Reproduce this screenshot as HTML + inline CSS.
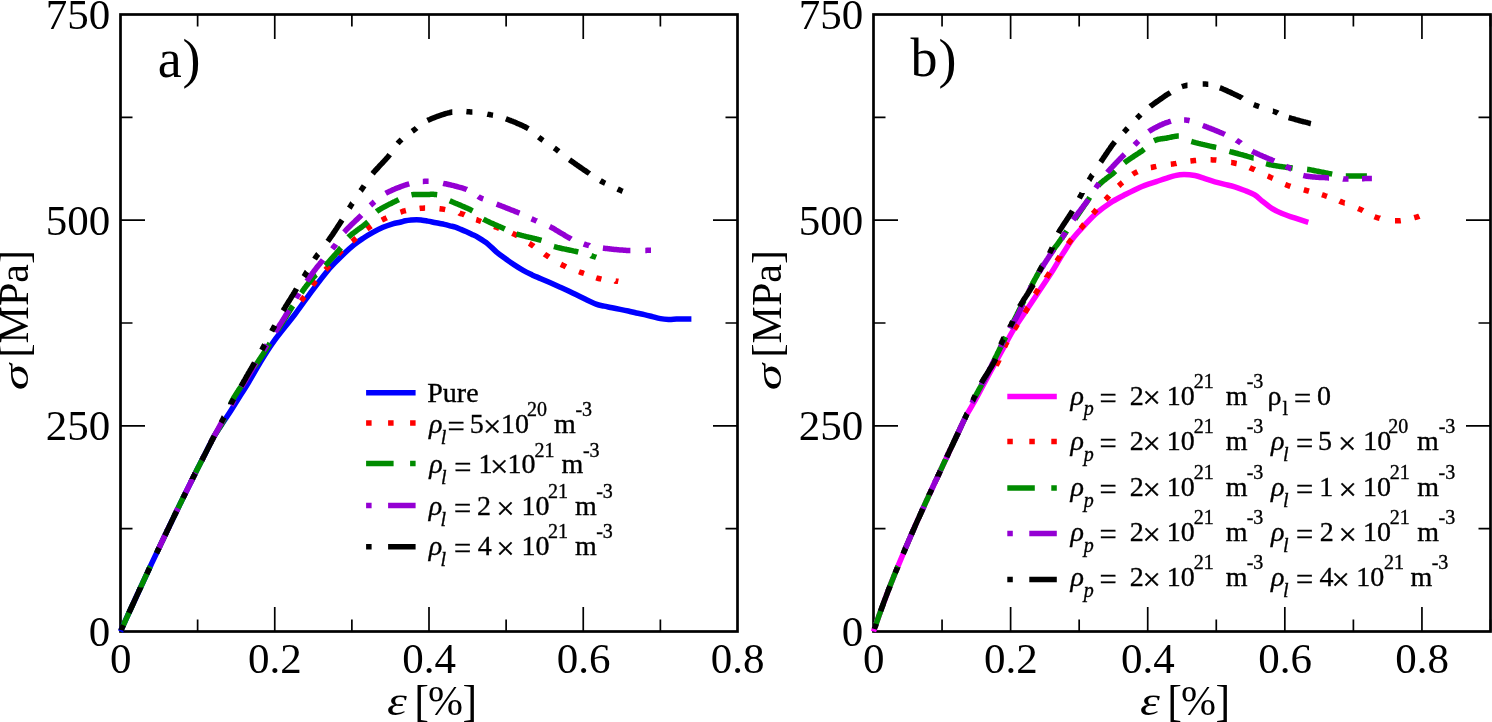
<!DOCTYPE html>
<html><head><meta charset="utf-8"><style>
html,body{margin:0;padding:0;background:#fff;}
svg{display:block;will-change:transform;font-family:"Liberation Serif",serif;}
.lg text{stroke:#000;stroke-width:0.35px;}
</style></head><body>
<svg width="1492" height="722" viewBox="0 0 1492 722">
<rect width="100%" height="100%" fill="#fff"/>
<rect x="120.5" y="14.5" width="617" height="617" fill="none" stroke="#000" stroke-width="2.7"/>
<path d="M274.75,631.5v-24.5M274.75,14.5v24.5M429,631.5v-24.5M429,14.5v24.5M583.25,631.5v-24.5M583.25,14.5v24.5M197.625,631.5v-12M197.625,14.5v12M351.875,631.5v-12M351.875,14.5v12M506.125,631.5v-12M506.125,14.5v12M660.375,631.5v-12M660.375,14.5v12M120.5,425.833h24.5M737.5,425.833h-24.5M120.5,220.167h24.5M737.5,220.167h-24.5M120.5,528.667h12M737.5,528.667h-12M120.5,323h12M737.5,323h-12M120.5,117.333h12M737.5,117.333h-12" stroke="#000" stroke-width="1.7" fill="none"/>
<rect x="873.5" y="14.5" width="617" height="617" fill="none" stroke="#000" stroke-width="2.7"/>
<path d="M1010.61,631.5v-24.5M1010.61,14.5v24.5M1147.72,631.5v-24.5M1147.72,14.5v24.5M1284.83,631.5v-24.5M1284.83,14.5v24.5M1421.94,631.5v-24.5M1421.94,14.5v24.5M942.056,631.5v-12M942.056,14.5v12M1079.17,631.5v-12M1079.17,14.5v12M1216.28,631.5v-12M1216.28,14.5v12M1353.39,631.5v-12M1353.39,14.5v12M1490.5,631.5v-12M1490.5,14.5v12M873.5,425.833h24.5M1490.5,425.833h-24.5M873.5,220.167h24.5M1490.5,220.167h-24.5M873.5,528.667h12M1490.5,528.667h-12M873.5,323h12M1490.5,323h-12M873.5,117.333h12M1490.5,117.333h-12" stroke="#000" stroke-width="1.7" fill="none"/>
<g fill="none" stroke-width="5.5" stroke-linejoin="round">
<path d="M120.5,631.5 C122.0,628.2 126.3,618.6 129.3,612.0 C132.3,605.4 135.4,598.7 138.5,592.0 C141.6,585.3 144.6,578.7 147.7,572.0 C150.8,565.3 153.9,558.7 157.1,552.0 C160.2,545.3 163.4,538.7 166.6,532.0 C169.8,525.3 173.0,518.7 176.2,512.0 C179.4,505.3 182.7,498.7 186.0,492.0 C189.3,485.3 192.6,478.7 195.9,472.0 C199.2,465.3 203.1,457.9 206.1,452.0 C209.1,446.1 211.3,441.2 214.0,436.5 C216.7,431.8 219.3,428.1 222.0,424.0 C224.7,419.9 226.9,416.8 230.0,412.0 C233.1,407.2 237.5,399.9 240.3,395.5 C243.1,391.1 243.6,390.8 246.8,385.4 C250.0,380.0 255.2,370.6 259.7,363.2 C264.2,355.8 268.1,349.3 274.0,341.1 C279.9,332.9 288.9,322.3 295.3,313.8 C301.7,305.3 307.3,297.1 312.4,290.3 C317.5,283.5 322.1,277.4 325.8,272.9 C329.5,268.4 331.4,266.4 334.5,263.2 C337.6,260.0 341.0,256.6 344.2,253.5 C347.4,250.4 350.7,247.4 353.9,244.8 C357.1,242.2 360.4,240.1 363.6,238.0 C366.8,235.9 370.1,234.0 373.3,232.2 C376.5,230.4 379.8,228.7 383.0,227.3 C386.2,225.9 389.9,224.7 392.7,223.8 C395.5,223.0 397.9,222.7 400.0,222.2 C402.1,221.7 403.6,221.2 405.5,220.8 C407.4,220.4 409.2,220.2 411.1,220.0 C413.0,219.8 414.8,219.7 416.6,219.7 C418.5,219.7 420.4,220.0 422.2,220.2 C424.0,220.4 425.9,220.8 427.7,221.1 C429.5,221.4 431.3,221.8 433.2,222.2 C435.1,222.6 436.9,222.9 438.8,223.3 C440.7,223.7 442.5,224.0 444.3,224.4 C446.1,224.8 448.0,225.3 449.9,225.8 C451.8,226.3 453.6,226.6 455.4,227.2 C457.2,227.8 459.0,228.6 460.9,229.4 C462.8,230.2 464.6,231.0 466.5,231.8 C468.4,232.6 470.1,233.5 472.0,234.4 C473.9,235.3 475.4,235.8 478.0,237.4 C480.6,239.0 484.6,241.4 487.7,243.8 C490.8,246.2 493.6,249.6 496.6,252.1 C499.6,254.6 502.6,256.7 505.5,258.8 C508.4,260.9 511.3,263.0 514.3,264.9 C517.2,266.8 520.2,268.7 523.2,270.4 C526.2,272.1 529.2,273.5 532.1,274.9 C535.0,276.3 538.0,277.4 540.9,278.7 C543.8,280.0 546.8,281.3 549.8,282.6 C552.8,283.9 555.6,285.2 558.6,286.5 C561.6,287.8 564.5,289.0 567.5,290.4 C570.5,291.8 573.5,293.4 576.4,294.8 C579.3,296.2 581.7,297.4 585.0,299.0 C588.3,300.6 592.9,302.9 596.1,304.1 C599.3,305.3 601.4,305.5 604.1,306.1 C606.8,306.7 609.5,307.2 612.2,307.8 C614.9,308.4 617.5,308.9 620.2,309.4 C622.9,309.9 625.6,310.4 628.3,311.0 C631.0,311.6 633.6,312.4 636.3,313.0 C639.0,313.6 641.7,314.0 644.4,314.6 C647.1,315.2 649.7,315.9 652.4,316.6 C655.1,317.3 657.8,318.1 660.5,318.6 C663.2,319.1 665.8,319.3 668.5,319.4 C671.2,319.5 673.8,319.1 676.5,319.0 C679.2,318.9 682.1,319.0 684.6,319.0 C687.1,319.0 690.3,319.0 691.4,319.0" stroke="#0000ff"/>
<path d="M301.1,301.0L301.7,300.2 302.4,299.3 303.0,298.4 303.6,297.6 304.2,296.7 304.3,296.6M312.4,285.4L312.6,285.1 313.1,284.5 313.6,283.8 314.1,283.2 314.9,282.1 315.7,281.1 315.9,280.9M325.5,269.9L325.6,269.8 326.2,269.1 326.8,268.4 327.4,267.7 328.0,266.9 328.7,266.1 329.2,265.5M338.1,254.4L338.7,253.7 339.3,253.0 340.0,252.3 340.7,251.6 341.4,250.9 341.9,250.4M352.1,241.5L352.6,241.1 353.3,240.5 354.1,239.8 354.8,239.2 355.6,238.5 356.2,238.0M366.9,229.0L367.6,228.5 368.4,227.9 369.1,227.4 369.9,226.8 370.7,226.3 371.1,226.0M381.8,220.1L382.2,219.9 383.1,219.4 384.0,219.0 384.8,218.6 385.7,218.2 386.5,217.8 386.7,217.7M400.4,212.1L400.4,212.1 401.4,211.8 402.3,211.5 403.2,211.2 404.2,210.9 405.1,210.7 405.9,210.5M419.6,208.4L420.4,208.3 421.3,208.3 422.3,208.2 423.2,208.2 424.2,208.1 425.1,208.1 425.1,208.1M439.5,208.7L440.4,208.8 441.3,209.0 442.3,209.1 443.3,209.2 444.2,209.4 445.2,209.6M459.4,213.1L459.5,213.2 460.4,213.5 461.3,213.7 462.2,214.0 463.2,214.3 464.2,214.6 464.6,214.8M476.2,219.6L476.6,219.7 477.5,220.1 478.5,220.5 479.4,220.8 480.3,221.2 481.1,221.5M494.2,226.4L494.2,226.4 495.2,226.8 496.1,227.1 497.0,227.5 497.9,227.8 498.8,228.2 499.3,228.4M512.4,233.3L513.2,233.7 514.0,234.1 514.9,234.5 515.8,234.9 516.6,235.4 517.4,235.8M529.2,243.3L529.9,243.7 530.7,244.3 531.5,244.8 532.3,245.4 533.2,245.9 533.7,246.3M544.5,254.1L545.0,254.5 545.9,255.0 546.7,255.6 547.5,256.1 548.3,256.6 549.0,257.1M560.9,264.3L561.7,264.7 562.5,265.2 563.4,265.6 564.3,266.0 565.2,266.4 565.9,266.8M579.0,271.7L579.8,272.0 580.7,272.3 581.6,272.6 582.5,272.9 583.4,273.3 584.0,273.5M596.2,277.8L596.8,278.0 597.7,278.3 598.7,278.5 599.6,278.7 600.6,278.9 601.4,279.1M615.5,281.0L615.6,281.1 616.4,281.2 617.1,281.2 617.8,281.3 618.3,281.4" stroke="#ff0000" stroke-linecap="butt" stroke-linejoin="miter"/>
<path d="M122.9,626.2L123.0,625.9 123.5,624.9 123.9,624.0 124.3,623.0 124.8,622.0 125.2,621.0 125.7,619.9 126.2,618.9 126.6,617.9 127.1,616.9 127.6,615.8 128.0,614.8 128.5,613.9 128.9,612.9 129.3,612.0 129.7,611.1 130.1,610.3 130.5,609.4 130.9,608.6 131.3,607.7 131.7,606.8 132.1,605.9 132.5,605.1 132.9,604.2 133.2,603.4M138.9,591.1L139.3,590.3 139.7,589.4 140.1,588.5 140.5,587.7 140.9,586.8 141.3,585.9 141.7,585.0 142.1,584.2 142.5,583.3 142.9,582.4 143.3,581.6 143.7,580.7 144.1,579.8 144.5,579.0 144.9,578.1 145.3,577.2 145.7,576.3 146.1,575.5 146.5,574.6 146.9,573.7 147.3,572.9 147.7,572.0 148.1,571.1 148.5,570.3 148.9,569.4 149.3,568.5 149.7,567.7 150.1,566.8 150.4,566.3M156.7,552.9L157.1,552.0 157.5,551.1 157.9,550.3 158.3,549.4 158.7,548.5 159.2,547.7 159.6,546.8 160.0,545.9 160.4,545.0 160.8,544.2 161.2,543.3 161.6,542.4 162.0,541.6 162.5,540.7 162.9,539.8 163.3,539.0 163.7,538.1 164.1,537.2 164.5,536.3 164.9,535.5 165.4,534.6 165.8,533.7 166.2,532.9 166.6,532.0 167.0,531.1 167.4,530.3 167.7,529.7M173.7,517.2L174.1,516.3 174.5,515.5 174.9,514.6 175.4,513.7 175.8,512.9 176.2,512.0 176.6,511.1 177.0,510.3 177.5,509.4 177.9,508.5 178.3,507.7 178.7,506.8 179.2,505.9 179.6,505.0 180.0,504.2 180.4,503.3 180.9,502.4 181.3,501.6 181.7,500.7 182.1,499.8 182.6,499.0 183.0,498.1 183.4,497.2 183.9,496.3 184.3,495.5 184.7,494.6M190.7,482.4L191.1,481.6 191.6,480.7 192.0,479.8 192.4,479.0 192.9,478.1 193.3,477.2 193.7,476.3 194.2,475.5 194.6,474.6 195.0,473.7 195.5,472.9 195.9,472.0 196.3,471.1 196.8,470.2 197.2,469.4 197.7,468.5 198.1,467.6 198.6,466.7 199.1,465.8 199.5,464.9 200.0,464.0 200.4,463.1 200.9,462.2 201.4,461.3 201.8,460.4 202.3,459.5 202.7,458.6 203.2,457.8 203.5,457.0M210.4,443.3L210.5,443.2 210.9,442.4 211.3,441.6 211.7,440.8 212.1,439.9 212.6,439.1 213.0,438.2 213.5,437.4 214.0,436.5 214.5,435.7 214.9,434.9 215.4,434.1 215.9,433.3 216.4,432.6 216.9,431.8 217.4,431.0 217.9,430.2 218.4,429.4 218.9,428.6 219.4,427.8 219.9,427.0 220.5,426.2 221.0,425.3 221.5,424.5 222.0,423.6 222.5,422.7 223.0,421.8 223.5,420.9 224.0,420.0 224.4,419.2 224.7,418.6M230.5,404.4L230.9,403.5 231.3,402.5 231.8,401.6 232.3,400.6 232.8,399.7 233.3,398.7 233.7,397.9 234.2,397.1 234.7,396.4 235.1,395.6 235.6,394.8 236.2,394.0 236.7,393.1 237.2,392.3 237.7,391.5 238.3,390.7 238.8,389.8 239.4,389.0 240.0,388.2 240.6,387.3 241.1,386.5 241.7,385.6 242.3,384.8 242.9,383.9 243.5,383.1 244.1,382.2 244.7,381.4 245.3,380.5 245.6,380.1M254.2,367.4L254.7,366.6 255.3,365.8 255.8,365.0 256.3,364.2 256.9,363.4 257.4,362.6 257.9,361.8 258.5,361.1 259.0,360.3 259.5,359.5 260.1,358.6 260.6,357.8 261.2,357.0 261.7,356.2 262.2,355.4 262.8,354.6 263.3,353.8 263.8,353.0 264.4,352.1 264.9,351.3 265.4,350.5 266.0,349.6 266.5,348.8 267.0,348.0 267.5,347.2 268.0,346.3 268.6,345.5 269.1,344.7 269.6,343.8 269.9,343.4M277.8,330.1L278.3,329.3 278.8,328.4 279.3,327.5 279.8,326.7 280.4,325.8 280.9,324.9 281.4,324.1 281.9,323.2 282.5,322.4 283.0,321.5 283.5,320.7 284.0,319.8 284.6,319.0 285.1,318.1 285.7,317.2 286.2,316.3 286.8,315.5 287.3,314.6 287.9,313.7 288.5,312.8 289.0,311.9 289.6,311.0 290.1,310.1 290.7,309.2 291.3,308.3 291.8,307.4 292.4,306.5 292.9,305.8M301.3,292.9L302.1,291.9 302.7,290.9 303.4,290.0 304.0,289.1 304.6,288.2 305.2,287.4 305.8,286.6 306.4,285.9 306.9,285.2 307.5,284.5 308.0,283.8 308.6,283.1 309.1,282.4 309.7,281.7 310.2,281.1 310.8,280.4 311.4,279.7 312.0,279.0 312.7,278.2 313.4,277.5 314.0,276.8 314.7,276.1 315.4,275.4 316.0,274.8 316.3,274.6M325.3,265.5L325.7,265.1 326.4,264.4 327.0,263.7 327.7,263.0 328.4,262.2 329.0,261.5 329.7,260.7 330.4,259.9 331.1,259.2 331.8,258.4 332.5,257.6 333.2,256.8 333.9,256.0 334.6,255.3 335.3,254.5 335.9,253.7 336.5,253.0 337.2,252.3 337.8,251.6 338.3,250.9 338.9,250.2 339.4,249.6 340.1,248.7 340.8,247.8 340.9,247.7M348.3,237.3L348.9,236.7 349.5,236.2 350.2,235.6 350.9,235.0 351.6,234.4 352.4,233.8 353.2,233.2 354.0,232.6 354.8,232.0 355.7,231.3 356.5,230.7 357.4,230.1 358.3,229.4 359.1,228.8 360.0,228.2 360.8,227.6 361.7,227.0 362.5,226.3 363.3,225.7 364.1,225.2 364.8,224.6 365.5,224.0 366.2,223.5 366.8,222.9 367.4,222.4 368.0,221.9M376.6,211.6L377.2,211.1 377.9,210.7 378.7,210.2 379.4,209.7 380.3,209.2 381.1,208.7 382.0,208.2 382.9,207.7 383.8,207.2 384.7,206.7 385.7,206.2 386.7,205.6 387.6,205.1 388.6,204.6 389.6,204.1 390.5,203.7 391.5,203.2 392.4,202.7 393.3,202.3 394.2,201.8 395.1,201.4 395.9,201.0 396.7,200.6 397.5,200.2 398.2,199.9 398.8,199.6M411.5,194.9L412.4,194.7 413.4,194.6 414.4,194.5 415.3,194.4 416.2,194.4 417.2,194.4 418.1,194.4 419.1,194.4 420.1,194.4 421.0,194.4 422.0,194.4 422.9,194.5 423.8,194.5 424.8,194.5 425.8,194.5 426.7,194.5 427.7,194.4 428.6,194.4 429.6,194.4 430.6,194.3 431.6,194.3 432.5,194.3 433.5,194.3 434.4,194.4 435.4,194.4 436.3,194.6 437.2,194.7 437.2,194.7M449.7,200.7L450.4,201.0 451.2,201.4 452.0,201.7 452.8,202.1 453.7,202.5 454.6,202.8 455.5,203.2 456.5,203.6 457.5,204.1 458.5,204.5 459.5,204.9 460.5,205.3 461.5,205.8 462.5,206.2 463.5,206.6 464.5,207.0 465.5,207.5 466.4,207.9 467.4,208.3 468.3,208.7 469.1,209.1 470.0,209.5 470.8,209.9 471.5,210.3 472.2,210.7 472.6,210.9M483.3,219.1L484.0,219.5 484.8,219.9 485.6,220.3 486.4,220.7 487.3,221.1 488.2,221.6 489.1,222.0 490.1,222.5 491.1,222.9 492.1,223.4 493.1,223.8 494.1,224.3 495.1,224.7 496.1,225.1 497.1,225.6 498.1,226.0 499.0,226.4 500.0,226.8 500.9,227.2 501.8,227.6 502.6,228.0 503.4,228.3 504.2,228.7 504.8,229.0M516.5,234.0L517.2,234.2 518.0,234.4 518.8,234.7 519.7,234.9 520.6,235.1 521.6,235.4 522.5,235.6 523.5,235.9 524.6,236.1 525.6,236.4 526.7,236.7 527.8,236.9 528.9,237.2 529.9,237.4 531.0,237.7 532.1,238.0 533.2,238.2 534.2,238.5 535.3,238.7 536.3,239.0 537.2,239.2 538.2,239.5 539.1,239.7 540.0,240.0 540.8,240.2 541.5,240.4M553.9,246.5L554.6,246.7 555.4,246.9 556.2,247.1 557.0,247.4 557.9,247.6 558.8,247.8 559.8,248.0 560.8,248.2 561.8,248.5 562.8,248.7 563.8,248.9 564.9,249.1 565.9,249.3 567.0,249.6 568.0,249.8 569.1,250.0 570.1,250.2 571.2,250.4 572.2,250.6 573.2,250.9 574.2,251.1 575.2,251.3 576.1,251.5 577.1,251.7 577.9,251.9 578.3,252.0M591.3,255.7L591.4,255.8 592.2,256.0 593.0,256.3 593.8,256.5 594.5,256.8 595.1,257.0 595.7,257.1 596.2,257.3" stroke="#008b00" stroke-linecap="butt" stroke-linejoin="miter"/>
<path d="M157.9,550.3L158.3,549.4 158.7,548.5 159.2,547.7 159.6,546.8 160.0,545.9 160.4,545.0 160.8,544.2 161.2,543.3 161.6,542.4 162.0,541.6 162.5,540.7 162.9,539.8 163.3,539.0 163.7,538.1 164.1,537.2 164.5,536.3 164.9,535.5 165.4,534.6 165.8,533.7 166.2,532.9 166.6,532.0 167.0,531.1 167.4,530.3 167.8,529.4 168.3,528.5 168.7,527.7 169.1,526.8 169.3,526.4M175.5,513.5L175.8,512.9 176.2,512.0 176.6,511.1 177.0,510.3 177.5,509.4 177.9,508.5 178.0,508.3M184.3,495.5L184.3,495.5 184.7,494.6 185.1,493.7 185.6,492.9 186.0,492.0 186.4,491.1 186.9,490.3 187.3,489.4 187.7,488.5 188.1,487.7 188.6,486.8 189.0,485.9 189.4,485.0 189.9,484.2 190.3,483.3 190.7,482.4 191.1,481.6 191.6,480.7 192.0,479.8 192.4,479.0 192.9,478.1 193.3,477.2 193.7,476.3 194.2,475.5 194.6,474.6 195.0,473.7 195.5,472.9 195.6,472.7M201.8,460.4L201.8,460.4 202.3,459.5 202.7,458.6 203.2,457.8 203.6,456.9 204.0,456.0 204.3,455.5M210.5,443.2L210.9,442.3 211.4,441.4 212.0,440.3 212.6,439.2 213.2,437.9 214.0,436.5 214.3,435.9 214.7,435.2 215.1,434.5 215.4,433.8 215.8,433.1 216.2,432.4 216.7,431.6 217.1,430.8 217.5,430.0 218.0,429.1 218.5,428.3 218.9,427.4 219.4,426.5 219.9,425.6 220.4,424.7 220.9,423.8 221.4,422.9 222.0,421.9 222.5,421.0 223.0,420.0 223.5,419.1 223.8,418.6M231.1,405.4L231.4,405.0 231.9,404.1 232.3,403.2 232.8,402.4 233.3,401.6 233.7,400.8 234.1,400.0M241.7,387.0L241.9,386.6 242.4,385.7 242.9,384.9 243.3,384.1 243.8,383.4 244.3,382.6 244.8,381.8 245.2,381.0 245.7,380.2 246.2,379.4 246.6,378.7 247.1,377.9 247.6,377.1 248.0,376.3 248.5,375.5 249.0,374.7 249.5,373.8 250.0,373.0 250.5,372.2 251.0,371.3 251.5,370.5 252.0,369.7 252.5,368.8 253.0,368.0 253.4,367.2 253.9,366.4 254.4,365.6 254.9,364.8 255.4,363.9 255.9,363.1 256.0,362.9M263.7,350.0L263.9,349.8 264.5,348.9 265.0,348.0 265.5,347.2 266.0,346.4 266.5,345.6 267.0,344.8M275.2,332.1L275.7,331.3 276.3,330.4 276.8,329.6 277.4,328.7 277.9,327.9 278.5,327.0 279.0,326.2 279.5,325.3 280.1,324.5 280.6,323.7 281.1,322.9 281.6,322.1 282.1,321.3 282.6,320.5 283.1,319.7 283.7,318.8 284.2,317.9 284.8,317.0 285.3,316.1 285.8,315.2 286.4,314.3 286.9,313.5 287.4,312.6 287.9,311.7 288.4,310.9 288.8,310.2M296.0,298.2L296.4,297.5 296.9,296.7 297.5,295.8 298.0,295.0 298.5,294.2 299.0,293.4M306.9,281.2L307.1,280.9 307.6,280.1 308.2,279.3 308.8,278.5 309.3,277.6 309.9,276.8 310.5,276.0 311.1,275.2 311.7,274.3 312.3,273.5 312.9,272.7 313.5,271.8 314.1,271.0 314.7,270.2 315.3,269.5 315.9,268.7 316.5,267.9 317.1,267.1 317.8,266.3 318.4,265.5 319.1,264.7 319.8,263.9 320.4,263.0 321.1,262.2 321.8,261.4 322.5,260.6 323.0,259.9M332.3,248.9L332.7,248.4 333.2,247.7 333.7,247.1 334.2,246.5 335.0,245.5 335.7,244.5 335.9,244.2M344.1,232.3L344.7,231.7 345.3,231.0 345.9,230.3 346.5,229.6 347.2,228.9 347.9,228.2 348.6,227.5 349.4,226.8 350.1,226.0 350.9,225.3 351.6,224.5 352.4,223.8 353.2,223.0 354.0,222.3 354.7,221.6 355.5,220.8 356.2,220.1 357.0,219.4 357.7,218.7 358.4,218.0 359.1,217.4 359.8,216.7 360.4,216.1 361.0,215.5 361.4,215.1M370.4,205.4L371.0,204.9 371.7,204.3 372.4,203.6 373.1,203.0 373.8,202.3 374.5,201.7 374.5,201.7M385.7,193.3L386.4,192.9 387.2,192.5 388.0,192.1 388.8,191.7 389.7,191.3 390.6,190.9 391.5,190.5 392.4,190.1 393.3,189.6 394.3,189.2 395.2,188.8 396.2,188.4 397.2,188.0 398.2,187.6 399.1,187.3 400.1,186.9 401.1,186.5 402.0,186.2 403.0,185.8 403.9,185.5 404.8,185.2 405.7,184.9 406.5,184.6 407.4,184.3 408.2,184.1 409.3,183.8M422.8,181.4L423.7,181.4 424.6,181.3 425.6,181.3 426.6,181.3 427.5,181.3 428.4,181.3 428.6,181.3M443.1,183.3L443.9,183.5 444.8,183.7 445.7,183.8 446.6,184.0 447.6,184.3 448.6,184.5 449.6,184.7 450.6,184.9 451.7,185.2 452.7,185.4 453.8,185.7 454.8,186.0 455.9,186.2 456.9,186.5 458.0,186.8 459.0,187.1 460.0,187.3 461.0,187.6 462.0,187.9 462.9,188.2 463.9,188.5 464.8,188.8 465.6,189.1 466.5,189.3 466.9,189.5M478.2,196.4L478.7,196.8 479.6,197.3 480.5,197.8 481.3,198.2 482.1,198.6 482.9,198.9 483.2,199.0M496.6,204.1L497.4,204.4 498.2,204.7 499.1,205.1 500.0,205.4 500.9,205.8 501.9,206.2 502.8,206.5 503.8,206.9 504.8,207.3 505.8,207.7 506.8,208.1 507.8,208.5 508.8,208.9 509.8,209.3 510.8,209.7 511.8,210.1 512.8,210.4 513.8,210.8 514.7,211.2 515.6,211.6 516.5,211.9 517.4,212.3 518.2,212.6 519.0,213.0 519.5,213.2M531.5,218.8L532.2,219.1 533.1,219.5 534.0,219.9 534.8,220.3 535.6,220.6 536.5,220.9 536.7,221.0M549.7,226.5L550.5,226.9 551.2,227.3 552.1,227.8 552.9,228.2 553.7,228.7 554.6,229.2 555.5,229.8 556.4,230.3 557.3,230.8 558.2,231.4 559.2,232.0 560.1,232.5 561.0,233.1 561.9,233.6 562.9,234.2 563.8,234.7 564.7,235.3 565.6,235.8 566.4,236.3 567.3,236.8 568.2,237.3 569.0,237.8 569.8,238.2 570.6,238.6 571.2,239.0M583.7,244.0L584.5,244.3 585.4,244.5 586.3,244.8 587.2,245.1 588.1,245.3 589.0,245.5 589.1,245.6M602.9,248.1L603.7,248.2 604.5,248.3 605.4,248.4 606.3,248.5 607.2,248.6 608.2,248.7 609.1,248.8 610.1,249.0 611.1,249.1 612.2,249.2 613.2,249.3 614.2,249.4 615.3,249.5 616.3,249.6 617.4,249.7 618.5,249.8 619.5,249.9 620.5,249.9 621.6,250.0 622.6,250.1 623.6,250.2 624.6,250.3 625.6,250.3 626.5,250.4 627.4,250.5 628.3,250.5 629.2,250.6 630.0,250.6 630.4,250.6M645.3,250.4L645.6,250.4 646.4,250.4 647.1,250.3 647.7,250.3 648.3,250.3 650.5,250.2 651.0,250.2 651.0,250.2" stroke="#9400d3" stroke-linecap="butt" stroke-linejoin="miter"/>
<path d="M121.1,630.2L121.2,629.8 121.6,629.1 121.9,628.4 122.3,627.6 122.6,626.8 123.0,625.9 123.3,625.2M128.9,612.9L129.3,612.0 129.7,611.1 130.1,610.3 130.5,609.4 130.9,608.6 131.3,607.7 131.7,606.8 132.1,605.9 132.5,605.1 132.9,604.2 133.3,603.3 133.7,602.5 134.1,601.6 134.5,600.7 134.9,599.8 135.3,599.0 135.7,598.1 136.1,597.2 136.5,596.4 136.9,595.5 137.3,594.6 137.7,593.7 138.1,592.9 138.5,592.0 138.9,591.1 139.3,590.3 139.7,589.4 140.1,588.5 140.5,587.7 140.5,587.6M146.8,573.9L146.9,573.7 147.3,572.9 147.7,572.0 148.1,571.1 148.5,570.3 148.9,569.4 149.3,568.5 149.5,568.1M156.5,553.3L156.7,552.9 157.1,552.0 157.5,551.1 157.9,550.3 158.3,549.4 158.7,548.5 159.1,547.8M164.9,535.5L165.4,534.6 165.8,533.7 166.2,532.9 166.6,532.0 167.0,531.1 167.4,530.3 167.8,529.4 168.3,528.5 168.7,527.7 169.1,526.8 169.5,525.9 169.9,525.0 170.3,524.2 170.8,523.3 171.2,522.4 171.6,521.6 172.0,520.7 172.4,519.8 172.8,519.0 173.3,518.1 173.7,517.2 174.1,516.3 174.5,515.5 174.9,514.6 175.4,513.7 175.8,512.9 176.2,512.0 176.6,511.2M183.0,498.1L183.0,498.1 183.4,497.2 183.9,496.3 184.3,495.5 184.7,494.6 185.1,493.7 185.6,492.9 185.7,492.7M192.4,479.1L192.4,479.0 192.9,478.1 193.3,477.2 193.7,476.3 194.2,475.5 194.6,474.6 195.0,473.7 195.1,473.6M201.8,460.4L202.3,459.5 202.7,458.6 203.2,457.8 203.6,456.9 204.0,456.0 204.5,455.2 204.9,454.4 205.3,453.6 205.7,452.8 206.1,452.0 206.6,451.0 207.1,450.1 207.5,449.2 208.0,448.3 208.4,447.4 208.9,446.5 209.3,445.7 209.7,444.9 210.2,444.0 210.6,443.2 211.0,442.4 211.4,441.6 211.8,440.8 212.2,439.9 212.7,439.1 213.1,438.2 213.5,437.4 214.0,436.5 214.3,435.9M221.1,422.7L221.6,421.8 222.0,420.9 222.5,420.0 222.9,419.2 223.4,418.3 223.8,417.4 223.9,417.3M230.8,404.2L230.8,404.1 231.3,403.2 231.8,402.4 232.2,401.6 232.7,400.7 233.2,399.8 233.7,399.0M241.1,386.1L241.5,385.4 242.0,384.6 242.4,383.8 242.9,383.0 243.4,382.2 243.8,381.3 244.3,380.4 244.9,379.6 245.4,378.7 245.9,377.7 246.4,376.8 247.0,375.9 247.5,375.0 248.0,374.0 248.6,373.1 249.1,372.2 249.6,371.3 250.1,370.3 250.7,369.4 251.2,368.6 251.7,367.7 252.2,366.8 252.6,366.0 253.1,365.2 253.5,364.4 254.0,363.6 254.4,362.9 254.5,362.7M261.8,350.0L262.2,349.2 262.7,348.3 263.2,347.4 263.6,346.6 264.1,345.8 264.5,345.0 264.7,344.7M271.7,331.3L271.8,331.1 272.3,330.3 272.7,329.4 273.2,328.6 273.7,327.7 274.1,326.9 274.6,326.0 274.8,325.6M283.1,310.8L283.6,310.0 284.0,309.2 284.5,308.4 285.0,307.6 285.5,306.7 286.0,305.9 286.6,305.1 287.1,304.2 287.6,303.3 288.1,302.5 288.7,301.6 289.2,300.8 289.7,299.9 290.3,299.1 290.8,298.2 291.3,297.4 291.8,296.5 292.4,295.7 292.9,294.9 293.4,294.0 293.9,293.2 294.4,292.4 294.8,291.7 295.3,290.9 295.8,290.0 296.4,289.1 296.6,288.7M303.8,276.7L304.3,276.0 304.8,275.2 305.3,274.3 305.8,273.5 306.3,272.7 306.8,271.8 306.9,271.7M314.6,259.1L315.1,258.3 315.7,257.5 316.3,256.6 316.8,255.8 317.4,255.0 318.0,254.2 318.2,254.0M327.7,241.4L328.3,240.6 328.9,239.8 329.4,239.0 330.0,238.2 330.6,237.3 331.2,236.5 331.8,235.6 332.4,234.8 333.0,233.9 333.5,233.1 334.1,232.2 334.7,231.4 335.2,230.5 335.8,229.7 336.4,228.8 336.9,228.0 337.5,227.1 338.0,226.3 338.5,225.5 339.0,224.7 339.6,223.9 340.1,223.1 340.6,222.3 341.1,221.5 341.6,220.7 342.1,220.0M349.3,208.1L349.7,207.5 350.2,206.6 350.8,205.7 351.3,204.9 351.8,204.1 352.3,203.3 352.4,203.2M360.7,190.8L360.8,190.7 361.3,189.9 361.9,189.1 362.4,188.3 363.0,187.4 363.6,186.6 364.1,185.8M372.6,173.7L373.2,173.0 373.7,172.3 374.3,171.6 375.0,170.9 375.6,170.2 376.3,169.5 377.0,168.7 377.7,168.0 378.4,167.2 379.1,166.4 379.8,165.7 380.5,164.9 381.3,164.1 382.0,163.4 382.7,162.6 383.4,161.8 384.1,161.1 384.8,160.3 385.5,159.6 386.2,158.8 386.8,158.1 387.5,157.4 388.1,156.7 388.6,156.1 389.2,155.4 389.7,154.7M397.7,143.5L398.3,142.8 398.9,142.1 399.6,141.4 400.3,140.7 401.0,140.1 401.6,139.5M412.2,131.3L412.9,130.8 413.7,130.3 414.4,129.7 415.2,129.1 416.0,128.5 416.5,128.0M427.5,120.5L428.3,120.1 429.0,119.8 429.9,119.4 430.7,119.0 431.6,118.7 432.5,118.3 433.5,117.9 434.4,117.5 435.4,117.2 436.4,116.8 437.4,116.4 438.4,116.0 439.4,115.7 440.5,115.3 441.5,115.0 442.5,114.6 443.5,114.3 444.5,114.0 445.5,113.7 446.5,113.4 447.4,113.2 448.4,112.9 449.3,112.7 450.1,112.5 451.0,112.3 452.1,112.1 452.3,112.1M466.4,111.6L467.3,111.7 468.3,111.7 469.3,111.8 470.2,111.9 471.1,111.9 472.1,112.0 472.4,112.0M487.3,114.1L487.7,114.2 488.6,114.4 489.5,114.5 490.3,114.7 491.3,114.9 492.3,115.1 493.0,115.2M505.9,118.8L506.7,119.1 507.5,119.4 508.4,119.7 509.3,120.1 510.2,120.4 511.1,120.8 512.1,121.1 513.0,121.5 514.0,121.9 515.0,122.3 516.0,122.7 517.0,123.2 517.9,123.6 518.9,124.0 519.9,124.4 520.8,124.9 521.8,125.3 522.7,125.7 523.6,126.2 524.5,126.6 525.3,127.0 526.2,127.5 527.0,127.9 527.7,128.3 528.4,128.7M538.7,137.1L539.2,137.5 540.0,138.2 540.8,138.8 541.5,139.3 542.3,139.9 543.0,140.4M554.3,148.0L554.3,148.0 555.0,148.5 555.8,149.1 556.5,149.6 557.3,150.2 558.1,150.8 558.7,151.3M569.5,159.7L570.2,160.2 570.9,160.7 571.6,161.2 572.4,161.8 573.2,162.3 574.0,162.9 574.8,163.5 575.7,164.1 576.5,164.7 577.4,165.3 578.2,165.9 579.1,166.5 580.0,167.1 580.9,167.7 581.7,168.3 582.6,168.9 583.4,169.5 584.3,170.1 585.1,170.6 585.9,171.2 586.7,171.7 587.5,172.3 588.2,172.8 588.9,173.2 589.4,173.6M600.4,180.7L600.9,181.0 601.8,181.5 602.7,182.0 603.5,182.4 604.3,182.9 605.2,183.3M617.6,189.0L618.2,189.3 618.9,189.7 619.6,189.9 620.1,190.2 621.9,191.1 622.6,191.4" stroke="#000000" stroke-linecap="butt" stroke-linejoin="miter"/>
<path d="M873.5,631.5 C874.6,628.2 877.9,618.6 880.3,612.0 C882.7,605.4 885.2,598.7 887.7,592.0 C890.2,585.3 892.9,578.7 895.6,572.0 C898.3,565.3 901.1,558.7 903.9,552.0 C906.7,545.3 909.6,538.7 912.5,532.0 C915.4,525.3 918.4,518.7 921.4,512.0 C924.4,505.3 927.4,498.7 930.5,492.0 C933.6,485.3 936.7,478.7 939.8,472.0 C942.9,465.3 946.0,458.7 949.1,452.0 C952.2,445.3 955.7,438.0 958.5,432.0 C961.3,426.0 963.0,421.6 965.9,416.2 C968.8,410.8 971.4,407.1 975.6,399.5 C979.8,391.9 986.4,379.0 991.1,370.4 C995.8,361.8 999.8,354.5 1003.6,347.6 C1007.4,340.7 1010.2,335.1 1014.0,328.9 C1017.8,322.7 1022.3,316.4 1026.4,310.2 C1030.6,304.0 1034.8,297.7 1038.9,291.5 C1043.1,285.3 1047.2,279.2 1051.3,272.8 C1055.4,266.4 1059.6,258.8 1063.3,253.0 C1067.0,247.2 1069.6,242.7 1073.2,238.0 C1076.8,233.3 1081.0,229.0 1084.9,224.8 C1088.8,220.7 1092.3,216.7 1096.5,213.1 C1100.7,209.5 1105.4,206.1 1109.8,203.2 C1114.2,200.3 1118.1,198.3 1123.1,195.7 C1128.1,193.1 1134.2,189.8 1139.7,187.4 C1145.2,185.1 1151.9,183.1 1156.3,181.6 C1160.7,180.1 1162.9,179.3 1166.0,178.3 C1169.1,177.3 1172.0,176.2 1175.0,175.6 C1178.0,174.9 1180.7,174.4 1184.0,174.4 C1187.3,174.4 1191.4,174.8 1194.9,175.5 C1198.4,176.2 1201.6,177.6 1204.9,178.7 C1208.2,179.8 1211.6,180.9 1214.9,181.8 C1218.2,182.7 1221.5,183.5 1224.8,184.3 C1228.1,185.1 1231.5,185.8 1234.8,186.8 C1238.1,187.8 1241.5,189.2 1244.8,190.5 C1248.1,191.8 1251.8,193.1 1254.7,194.9 C1257.6,196.7 1259.3,198.8 1262.2,201.1 C1265.1,203.4 1268.9,206.5 1272.2,208.6 C1275.5,210.7 1278.4,212.0 1282.1,213.6 C1285.8,215.2 1290.2,216.4 1294.6,217.9 C1299.0,219.4 1306.0,221.6 1308.3,222.3" stroke="#ff00ff"/>
<path d="M996.0,365.5L996.4,364.8 996.9,364.0 997.4,363.1 997.8,362.3 998.3,361.5 998.7,360.6 998.7,360.5M1004.4,347.1L1004.8,346.3 1005.3,345.4 1005.7,344.5 1006.1,343.6 1006.6,342.8 1007.1,341.9M1014.5,329.3L1014.5,329.3 1015.0,328.4 1015.5,327.6 1016.0,326.8 1016.5,325.9 1017.0,325.1 1017.5,324.4M1025.0,312.6L1025.4,311.9 1025.9,311.1 1026.4,310.2 1026.9,309.4 1027.3,308.6 1027.8,307.7 1027.9,307.6M1035.2,294.1L1035.3,294.0 1035.8,293.1 1036.3,292.3 1036.8,291.5 1037.3,290.7 1037.9,289.8 1038.3,289.1M1046.6,277.3L1046.6,277.2 1047.2,276.5 1047.7,275.7 1048.2,274.9 1048.7,274.1 1049.3,273.3 1049.7,272.6M1056.8,261.1L1057.2,260.5 1057.8,259.6 1058.3,258.8 1058.8,258.0 1059.3,257.2 1059.9,256.4 1059.9,256.3M1068.2,243.8L1068.2,243.8 1068.8,243.0 1069.3,242.2 1069.9,241.4 1070.5,240.6 1071.1,239.8 1071.6,239.2M1080.6,228.5L1081.2,227.9 1081.8,227.1 1082.4,226.4 1083.0,225.7 1083.6,224.9 1084.2,224.3M1093.0,213.6L1093.6,212.9 1094.2,212.2 1094.8,211.5 1095.5,210.8 1096.1,210.0 1096.5,209.5M1105.5,199.7L1106.0,199.2 1106.6,198.5 1107.3,197.8 1107.9,197.1 1108.6,196.4 1109.1,195.8M1118.6,185.9L1119.2,185.4 1119.9,184.7 1120.6,184.1 1121.3,183.4 1122.0,182.8 1122.5,182.4M1132.7,174.2L1133.3,173.8 1134.1,173.4 1135.0,172.9 1135.8,172.5 1136.7,172.1 1137.5,171.7M1150.8,167.6L1151.6,167.5 1152.5,167.2 1153.5,167.0 1154.4,166.8 1155.4,166.6 1156.3,166.4 1156.3,166.4M1170.8,164.2L1170.8,164.2 1171.8,164.1 1172.8,163.9 1173.7,163.8 1174.7,163.6 1175.7,163.5 1176.5,163.3M1190.4,161.0L1191.2,160.9 1192.2,160.8 1193.2,160.7 1194.1,160.6 1195.1,160.5 1196.1,160.4 1196.1,160.4M1210.6,159.8L1211.6,159.8 1212.5,159.9 1213.5,159.9 1214.5,160.0 1215.5,160.0 1216.4,160.1M1231.2,162.4L1231.3,162.4 1232.2,162.6 1233.2,162.8 1234.1,163.0 1235.1,163.2 1236.1,163.5 1236.7,163.6M1249.7,167.7L1250.3,168.0 1251.3,168.3 1252.2,168.7 1253.1,169.1 1254.0,169.4 1254.8,169.8M1267.7,176.0L1268.5,176.3 1269.4,176.8 1270.3,177.2 1271.2,177.6 1272.1,178.1 1272.8,178.4M1285.2,184.5L1286.0,184.8 1286.9,185.2 1287.8,185.5 1288.7,185.8 1289.6,186.1 1290.4,186.4M1303.8,189.8L1304.6,190.0 1305.5,190.3 1306.4,190.5 1307.4,190.8 1308.3,191.0 1309.0,191.2M1322.0,194.7L1322.6,194.9 1323.6,195.2 1324.5,195.5 1325.4,195.8 1326.4,196.1 1327.0,196.3M1339.5,201.1L1340.1,201.4 1341.1,201.7 1342.0,202.1 1342.9,202.4 1343.7,202.8 1344.6,203.1 1344.7,203.1M1358.1,208.5L1358.1,208.5 1359.0,208.9 1359.9,209.2 1360.7,209.6 1361.6,210.0 1362.5,210.4 1363.0,210.7M1374.5,216.7L1375.0,216.9 1375.9,217.2 1376.9,217.5 1377.8,217.8 1378.6,218.0 1379.6,218.2 1379.8,218.3M1395.0,220.7L1395.3,220.7 1396.2,220.8 1397.2,220.8 1398.1,220.8 1399.1,220.8 1400.1,220.7 1400.8,220.6M1414.2,217.7L1414.9,217.5 1415.6,217.3 1416.2,217.1 1416.8,217.0 1418.7,216.5 1419.4,216.2 1419.4,216.2" stroke="#ff0000" stroke-linecap="butt" stroke-linejoin="miter"/>
<path d="M875.0,627.3L875.2,626.5 875.6,625.5 875.9,624.5 876.3,623.5 876.6,622.5 877.0,621.4 877.4,620.3 877.7,619.3 878.1,618.2 878.5,617.1 878.9,616.0 879.2,615.0 879.6,614.0 880.0,613.0 880.3,612.0 880.6,611.1 880.9,610.2 881.3,609.3 881.6,608.4 881.9,607.5 882.3,606.6 882.6,605.7 882.9,604.8 883.3,603.9 883.3,603.7M888.0,591.1L888.4,590.2 888.7,589.3 889.1,588.4 889.5,587.5 889.8,586.5 890.2,585.6 890.5,584.7 890.9,583.8 891.2,582.9 891.6,582.0 892.0,581.1 892.3,580.2 892.7,579.3 893.0,578.4 893.4,577.5 893.8,576.5 894.1,575.6 894.5,574.7 894.9,573.8 895.2,572.9 895.6,572.0 896.0,571.1 896.3,570.2 896.7,569.3 897.1,568.4 897.5,567.5 897.8,566.5 898.0,566.2M903.5,552.9L903.9,552.0 904.3,551.1 904.7,550.2 905.1,549.3 905.4,548.4 905.8,547.5 906.2,546.5 906.6,545.6 907.0,544.7 907.4,543.8 907.8,542.9 908.2,542.0 908.6,541.1 908.9,540.2 909.3,539.3 909.7,538.4 910.1,537.5 910.5,536.5 910.9,535.6 911.3,534.7 911.7,533.8 912.1,532.9 912.5,532.0 912.9,531.1 913.3,530.2 913.4,529.8M919.0,517.5L919.4,516.5 919.8,515.6 920.2,514.7 920.6,513.8 921.0,512.9 921.4,512.0 921.8,511.1 922.2,510.2 922.6,509.3 923.0,508.4 923.5,507.5 923.9,506.5 924.3,505.6 924.7,504.7 925.1,503.8 925.5,502.9 925.9,502.0 926.3,501.1 926.8,500.2 927.2,499.3 927.6,498.4 928.0,497.5 928.4,496.5 928.8,495.6 929.2,494.7 929.3,494.7M934.9,482.4L935.3,481.6 935.7,480.7 936.2,479.8 936.6,479.0 937.0,478.1 937.4,477.2 937.8,476.3 938.2,475.5 938.6,474.6 939.0,473.7 939.4,472.9 939.8,472.0 940.2,471.1 940.6,470.3 941.0,469.4 941.4,468.5 941.8,467.7 942.2,466.8 942.6,465.9 943.0,465.0 943.4,464.2 943.8,463.3 944.2,462.4 944.6,461.6 945.0,460.7 945.5,459.8 945.7,459.2M951.6,446.7L952.0,445.8 952.4,444.9 952.9,444.0 953.3,443.1 953.7,442.2 954.1,441.3 954.5,440.4 955.0,439.5 955.4,438.6 955.8,437.8 956.2,436.9 956.6,436.1 957.0,435.2 957.4,434.4 957.8,433.6 958.1,432.8 958.5,432.0 959.0,431.0 959.4,430.1 959.8,429.1 960.3,428.2 960.7,427.3 961.1,426.4 961.5,425.6 961.9,424.7 962.3,423.9 962.7,423.0 963.1,422.2 963.5,421.3 963.9,420.5 964.3,419.7 964.7,418.8 965.1,418.0 965.5,417.1 965.9,416.2 966.3,415.3 966.7,414.5 966.8,414.4M975.1,397.0L975.5,396.2 975.9,395.3 976.4,394.5 976.8,393.6 977.3,392.8 977.8,391.9 978.2,391.0 978.7,390.1 979.2,389.2 979.7,388.3 980.2,387.4 980.7,386.5 981.2,385.5 981.7,384.6 982.2,383.7 982.7,382.8 983.2,381.8 983.7,380.9 984.2,380.0 984.7,379.1 985.1,378.2 985.6,377.3 986.1,376.4 986.5,375.5 987.0,374.6 987.5,373.7 987.5,373.6M993.9,360.7L994.3,360.0 994.7,359.1 995.2,358.2 995.6,357.3 996.0,356.4 996.5,355.5 996.9,354.7 997.3,353.8 997.7,352.9 998.2,352.1 998.6,351.3 999.0,350.4 999.4,349.6 999.9,348.7 1000.3,347.7 1000.8,346.8 1001.2,345.9 1001.7,345.1 1002.1,344.2 1002.5,343.4 1002.9,342.5 1003.4,341.7 1003.8,340.9 1004.2,340.1 1004.6,339.2 1005.0,338.4 1005.4,337.6 1005.7,337.0M1012.2,324.2L1012.4,323.8 1012.8,322.9 1013.2,322.0 1013.7,321.1 1014.1,320.2 1014.6,319.3 1015.1,318.4 1015.5,317.5 1016.0,316.6 1016.4,315.7 1016.9,314.8 1017.3,313.8 1017.8,312.9 1018.3,312.0 1018.7,311.1 1019.2,310.2 1019.6,309.3 1020.1,308.4 1020.5,307.5 1021.0,306.6 1021.4,305.7 1021.9,304.9 1022.3,304.0 1022.8,303.1 1023.2,302.2 1023.7,301.2 1024.1,300.5M1030.5,287.7L1030.8,287.0 1031.3,286.1 1031.7,285.3 1032.2,284.4 1032.6,283.6 1033.1,282.7 1033.5,281.8 1034.0,281.0 1034.5,280.1 1034.9,279.2 1035.4,278.4 1035.9,277.5 1036.4,276.6 1036.9,275.7 1037.3,274.9 1037.8,274.0 1038.3,273.1 1038.8,272.3 1039.2,271.4 1039.7,270.6 1040.2,269.7 1040.7,268.9 1041.2,268.0 1041.6,267.2 1042.1,266.4 1042.6,265.5 1043.1,264.7 1043.3,264.5M1051.2,252.5L1051.7,251.9 1052.3,251.1 1052.8,250.4 1053.4,249.6 1054.0,248.8 1054.6,248.0 1055.2,247.2 1055.8,246.4 1056.4,245.6 1057.0,244.8 1057.7,243.9 1058.3,243.0 1058.8,242.3 1059.4,241.5 1059.9,240.7 1060.4,240.0 1061.0,239.2 1061.6,238.4 1062.1,237.6 1062.7,236.8 1063.3,235.9 1063.9,235.1 1064.4,234.3 1065.0,233.5 1065.6,232.6 1066.2,231.8 1066.7,231.0M1074.9,219.3L1075.3,218.7 1075.8,217.9 1076.4,217.1 1076.9,216.3 1077.5,215.5 1078.0,214.7 1078.6,213.9 1079.1,213.1 1079.7,212.3 1080.2,211.5 1080.7,210.7 1081.3,209.9 1081.8,209.1 1082.3,208.4 1082.9,207.6 1083.4,206.8 1083.9,206.0 1084.4,205.3 1085.0,204.5 1085.5,203.8 1086.0,203.0 1086.6,202.2 1087.1,201.3 1087.7,200.5 1088.2,199.7 1088.8,198.9 1089.3,198.0 1089.7,197.3M1098.1,185.7L1098.8,185.0 1099.5,184.3 1100.2,183.6 1101.0,182.9 1101.7,182.2 1102.5,181.6 1103.3,180.9 1104.1,180.3 1104.9,179.7 1105.7,179.1 1106.4,178.5 1107.2,177.9 1108.0,177.3 1108.8,176.7 1109.5,176.1 1110.3,175.6 1111.0,175.0 1111.7,174.4 1112.4,173.9 1113.1,173.3 1113.9,172.6 1114.6,171.9 1115.3,171.3 1115.4,171.2M1124.3,162.9L1124.9,162.4 1125.6,161.9 1126.4,161.4 1127.1,160.8 1127.9,160.3 1128.7,159.7 1129.5,159.2 1130.4,158.6 1131.2,158.0 1132.1,157.5 1133.0,156.9 1133.8,156.3 1134.7,155.7 1135.6,155.2 1136.4,154.6 1137.3,154.0 1138.1,153.5 1139.0,152.9 1139.7,152.4 1140.5,151.9 1141.3,151.4 1142.0,150.9 1142.7,150.4 1143.3,149.9 1144.2,149.2M1154.0,140.8L1154.9,140.4 1155.7,140.1 1156.6,139.8 1157.5,139.5 1158.5,139.3 1159.4,139.1 1160.4,138.9 1161.3,138.8 1162.3,138.7 1163.2,138.5 1164.2,138.4 1165.1,138.3 1166.1,138.2 1167.0,138.0 1167.9,137.8 1168.9,137.6 1169.8,137.4 1170.7,137.2 1171.7,137.0 1172.6,136.8 1173.5,136.6 1174.5,136.4 1175.4,136.3 1176.3,136.2 1177.2,136.1 1178.1,136.1 1178.8,136.1M1191.3,141.5L1192.0,141.7 1192.8,141.9 1193.7,142.2 1194.5,142.4 1195.5,142.7 1196.4,142.9 1197.4,143.1 1198.4,143.4 1199.5,143.6 1200.5,143.9 1201.6,144.1 1202.7,144.4 1203.8,144.6 1204.9,144.9 1206.0,145.1 1207.1,145.4 1208.1,145.6 1209.2,145.9 1210.2,146.1 1211.2,146.3 1212.2,146.6 1213.2,146.8 1214.1,147.0 1214.9,147.2 1215.7,147.4 1216.2,147.5M1229.4,151.4L1230.1,151.6 1230.9,151.8 1231.7,152.0 1232.6,152.3 1233.5,152.5 1234.4,152.8 1235.4,153.0 1236.4,153.3 1237.4,153.5 1238.4,153.8 1239.4,154.1 1240.4,154.4 1241.5,154.6 1242.5,154.9 1243.5,155.2 1244.6,155.5 1245.6,155.7 1246.6,156.0 1247.5,156.3 1248.5,156.6 1249.4,156.8 1250.3,157.1 1251.2,157.4 1252.0,157.6 1252.8,157.9 1253.5,158.1 1253.6,158.1M1266.0,163.7L1266.8,163.9 1267.6,164.1 1268.4,164.3 1269.3,164.5 1270.2,164.7 1271.2,164.9 1272.1,165.1 1273.1,165.3 1274.1,165.4 1275.1,165.6 1276.1,165.8 1277.1,165.9 1278.1,166.1 1279.1,166.3 1280.2,166.4 1281.2,166.6 1282.2,166.7 1283.2,166.9 1284.2,167.0 1285.2,167.1 1286.2,167.3 1287.1,167.4 1288.1,167.5 1289.0,167.6 1290.0,167.7 1290.9,167.8 1291.9,167.9 1292.6,168.0M1307.1,169.3L1308.0,169.4 1308.9,169.6 1309.9,169.7 1310.8,169.9 1311.8,170.1 1312.8,170.3 1313.8,170.5 1314.8,170.7 1315.8,170.9 1316.8,171.1 1317.8,171.3 1318.8,171.5 1319.8,171.7 1320.8,171.9 1321.8,172.1 1322.8,172.3 1323.8,172.5 1324.7,172.7 1325.6,172.9 1326.6,173.1 1327.5,173.2 1328.3,173.4 1329.2,173.6 1330.0,173.7 1331.2,173.9 1332.2,174.1M1345.8,175.9L1346.7,175.9 1347.6,176.0 1348.6,176.0 1349.6,176.0 1350.7,176.0 1351.7,176.1 1352.8,176.1 1354.0,176.1 1355.1,176.1 1356.2,176.0 1357.3,176.0 1358.4,176.0 1359.5,176.0 1360.6,176.0 1361.6,176.0 1362.5,176.0 1363.4,175.9 1364.3,175.9 1365.1,175.9 1365.8,175.9 1366.4,175.9 1366.9,175.9" stroke="#008b00" stroke-linecap="butt" stroke-linejoin="miter"/>
<path d="M904.3,551.1L904.7,550.2 905.1,549.3 905.4,548.4 905.8,547.5 906.2,546.5 906.6,545.6 907.0,544.7 907.4,543.8 907.8,542.9 908.2,542.0 908.6,541.1 908.9,540.2 909.3,539.3 909.7,538.4 910.1,537.5 910.5,536.5 910.9,535.6 911.3,534.7 911.7,533.8 912.1,532.9 912.5,532.0 912.9,531.1 913.3,530.2 913.7,529.3 914.1,528.4 914.5,527.5 914.9,526.5 915.3,525.7M921.4,512.1L921.4,512.0 921.8,511.1 922.2,510.2 922.6,509.3 923.0,508.4 923.5,507.5 923.9,506.5 923.9,506.5M930.1,492.9L930.5,492.0 930.9,491.1 931.3,490.3 931.7,489.4 932.1,488.5 932.5,487.7 932.9,486.8 933.3,485.9 933.7,485.0 934.1,484.2 934.5,483.3 934.9,482.4 935.3,481.6 935.7,480.7 936.2,479.8 936.6,479.0 937.0,478.1 937.4,477.2 937.8,476.3 938.2,475.5 938.6,474.6 939.0,473.7 939.4,472.9 939.8,472.0 940.2,471.1 940.5,470.5M946.1,458.3L946.3,458.1 946.7,457.2 947.1,456.3 947.5,455.5 947.9,454.6 948.3,453.7 948.4,453.4M954.1,441.3L954.5,440.4 955.0,439.5 955.4,438.6 955.8,437.8 956.2,436.9 956.6,436.1 957.0,435.2 957.4,434.4 957.8,433.6 958.1,432.8 958.5,432.0 959.0,431.0 959.4,430.1 959.8,429.1 960.3,428.2 960.7,427.3 961.1,426.4 961.5,425.6 961.9,424.7 962.3,423.9 962.7,423.0 963.1,422.2 963.5,421.3 963.9,420.5 964.3,419.7 964.7,418.8 965.1,418.0 965.5,417.1 965.8,416.5M972.0,403.1L972.4,402.2 972.9,401.1 973.5,400.0 973.9,399.3 974.3,398.5 974.7,397.8 974.7,397.7M981.7,384.7L981.7,384.6 982.2,383.7 982.7,382.8 983.2,381.8 983.7,380.9 984.2,380.0 984.7,379.1 985.1,378.2 985.6,377.3 986.1,376.4 986.5,375.5 987.0,374.6 987.5,373.7 987.9,372.8 988.4,371.9 988.8,371.0 989.3,370.1 989.8,369.1 990.2,368.2 990.7,367.3 991.1,366.4 991.6,365.5 992.0,364.5 992.5,363.6 992.9,362.7 993.4,361.8 993.8,360.9 994.1,360.3M1000.7,347.1L1000.8,346.8 1001.3,345.8 1001.7,344.9 1002.2,344.0 1002.6,343.1 1003.1,342.2 1003.3,341.7M1010.0,328.5L1010.3,327.9 1010.8,327.0 1011.3,326.2 1011.8,325.4 1012.2,324.6 1012.7,323.9 1013.1,323.2 1013.5,322.5 1013.9,321.8 1014.4,321.1 1014.8,320.4 1015.3,319.6 1015.8,318.7 1016.3,317.8 1016.9,316.8 1017.5,315.6 1018.1,314.4 1018.4,313.7 1018.8,313.0 1019.1,312.3 1019.5,311.5 1019.9,310.7 1020.3,309.9 1020.7,309.1 1021.1,308.2 1021.5,307.3 1021.9,306.4 1022.3,305.5 1022.7,304.6 1022.8,304.3M1029.0,290.9L1029.3,290.3 1029.8,289.4 1030.2,288.5 1030.7,287.6 1031.1,286.7 1031.6,285.8 1031.7,285.5M1039.0,272.6L1039.2,272.2 1039.7,271.4 1040.2,270.6 1040.7,269.8 1041.2,269.0 1041.6,268.2 1042.1,267.4 1042.7,266.6 1043.2,265.8 1043.7,264.9 1044.2,264.1 1044.7,263.3 1045.2,262.5 1045.7,261.7 1046.3,260.8 1046.8,260.0 1047.3,259.2 1047.9,258.4 1048.4,257.5 1049.0,256.7 1049.5,255.8 1050.1,255.0 1050.7,254.1 1051.3,253.2 1051.9,252.4 1052.5,251.5 1053.1,250.6 1053.7,249.8 1053.8,249.6M1062.2,237.5L1062.3,237.5 1062.7,236.7 1063.2,236.0 1063.7,235.4 1064.1,234.7 1064.8,233.6 1065.4,232.6 1065.5,232.4M1073.2,219.8L1073.7,219.1 1074.2,218.4 1074.7,217.7 1075.2,216.9 1075.8,216.2 1076.4,215.4 1077.0,214.6 1077.6,213.8 1078.2,213.0 1078.8,212.2 1079.4,211.4 1080.1,210.6 1080.7,209.8 1081.3,208.9 1082.0,208.1 1082.6,207.3 1083.2,206.5 1083.8,205.7 1084.4,204.9 1085.0,204.1 1085.6,203.4 1086.2,202.6 1086.7,201.9 1087.2,201.2 1087.7,200.5 1088.2,199.8 1088.4,199.5M1095.7,188.0L1096.2,187.3 1096.7,186.5 1097.3,185.7 1097.9,184.9 1098.4,184.1 1098.9,183.4M1107.4,172.5L1108.1,171.6 1108.7,170.9 1109.3,170.3 1109.9,169.6 1110.5,168.9 1111.2,168.1 1111.9,167.4 1112.6,166.7 1113.2,165.9 1114.0,165.2 1114.7,164.4 1115.4,163.6 1116.1,162.9 1116.8,162.1 1117.6,161.4 1118.3,160.6 1119.0,159.9 1119.7,159.2 1120.4,158.5 1121.1,157.7 1121.8,157.1 1122.4,156.4 1123.1,155.7 1123.7,155.1 1124.3,154.5 1124.6,154.2M1134.5,144.9L1135.1,144.3 1135.8,143.7 1136.5,143.0 1137.2,142.3 1137.9,141.6 1138.5,141.0M1148.7,131.6L1149.4,131.1 1150.2,130.7 1151.0,130.2 1151.8,129.7 1152.7,129.2 1153.5,128.7 1154.4,128.2 1155.3,127.7 1156.3,127.2 1157.2,126.7 1158.1,126.3 1159.1,125.8 1160.0,125.3 1161.0,124.9 1162.0,124.5 1162.9,124.0 1163.9,123.6 1164.8,123.3 1165.7,122.9 1166.6,122.6 1167.5,122.3 1168.4,122.0 1169.2,121.7 1170.3,121.4 1170.9,121.2M1184.1,120.0L1184.9,120.0 1185.9,120.1 1186.8,120.2 1187.8,120.3 1188.7,120.5 1189.6,120.7M1202.8,125.5L1203.6,125.8 1204.4,126.1 1205.3,126.4 1206.2,126.8 1207.1,127.1 1208.0,127.5 1209.0,127.9 1209.9,128.2 1210.9,128.6 1211.9,129.0 1212.9,129.4 1213.9,129.8 1214.9,130.2 1215.9,130.6 1216.9,131.0 1217.8,131.4 1218.8,131.8 1219.7,132.2 1220.7,132.6 1221.6,133.0 1222.4,133.3 1223.3,133.7 1224.1,134.0 1224.9,134.4 1224.9,134.4M1236.4,140.1L1236.9,140.5 1237.7,141.0 1238.6,141.5 1239.4,142.0 1240.1,142.5 1240.8,143.0 1240.9,143.1M1252.2,151.2L1252.9,151.6 1253.7,152.0 1254.5,152.4 1255.4,152.8 1256.3,153.2 1257.2,153.7 1258.1,154.1 1259.0,154.5 1260.0,154.9 1261.0,155.4 1262.0,155.8 1262.9,156.2 1263.9,156.6 1264.9,157.0 1265.9,157.5 1266.9,157.9 1267.8,158.3 1268.8,158.7 1269.7,159.1 1270.6,159.4 1271.5,159.8 1272.4,160.2 1273.2,160.5 1274.0,160.9 1274.2,161.0M1286.0,166.2L1286.7,166.6 1287.5,167.0 1288.4,167.4 1289.2,167.8 1290.0,168.3 1290.8,168.8 1290.9,168.8M1303.3,175.5L1304.1,175.7 1304.9,175.9 1305.8,176.0 1306.7,176.2 1307.7,176.3 1308.6,176.5 1309.7,176.6 1310.7,176.7 1311.7,176.8 1312.8,176.9 1313.9,177.0 1315.0,177.1 1316.0,177.2 1317.1,177.2 1318.2,177.3 1319.3,177.4 1320.4,177.4 1321.5,177.5 1322.5,177.5 1323.6,177.6 1324.6,177.6 1325.6,177.7 1326.5,177.8 1327.4,177.8 1328.3,177.9 1329.0,177.9M1343.0,179.0L1343.4,179.1 1344.5,179.1 1345.8,179.1 1346.6,179.1 1347.5,179.1 1348.4,179.1 1348.5,179.1M1362.0,178.7L1362.6,178.7 1363.7,178.7 1364.8,178.6 1365.8,178.6 1366.7,178.6 1367.7,178.5 1368.5,178.5 1369.3,178.5 1370.1,178.5 1370.8,178.4 1371.4,178.4 1371.9,178.4" stroke="#9400d3" stroke-linecap="butt" stroke-linejoin="miter"/>
<path d="M874.4,629.0L874.4,629.0 874.6,628.2 874.9,627.4 875.2,626.5 875.6,625.5 875.9,624.5 876.1,623.8M880.6,611.1L880.9,610.2 881.3,609.3 881.6,608.4 881.9,607.5 882.3,606.6 882.6,605.7 882.9,604.8 883.3,603.9 883.6,602.9 883.9,602.0 884.3,601.1 884.6,600.2 884.9,599.3 885.3,598.4 885.6,597.5 886.0,596.6 886.3,595.6 886.7,594.7 887.0,593.8 887.4,592.9 887.7,592.0 888.0,591.1 888.4,590.2 888.7,589.3 889.1,588.4 889.5,587.5 889.8,586.5 889.9,586.2M895.2,572.9L895.6,572.0 896.0,571.1 896.3,570.2 896.7,569.3 897.1,568.4 897.5,567.5 897.5,567.4M903.1,553.8L903.1,553.8 903.5,552.9 903.9,552.0 904.3,551.1 904.7,550.2 905.1,549.3 905.4,548.4 905.5,548.3M911.3,534.7L911.7,533.8 912.1,532.9 912.5,532.0 912.9,531.1 913.3,530.2 913.7,529.3 914.1,528.4 914.5,527.5 914.9,526.5 915.3,525.6 915.7,524.7 916.1,523.8 916.5,522.9 916.9,522.0 917.3,521.1 917.7,520.2 918.1,519.3 918.5,518.4 919.0,517.5 919.4,516.5 919.8,515.6 920.2,514.7 920.6,513.8 921.0,512.9 921.4,512.0 921.8,511.1 922.2,510.2 922.6,509.3 922.8,508.8M929.2,494.8L929.2,494.7 929.7,493.8 930.1,492.9 930.5,492.0 930.9,491.1 931.3,490.3 931.7,489.4 931.7,489.4M937.8,476.4L937.8,476.3 938.2,475.5 938.6,474.6 939.0,473.7 939.4,472.9 939.8,472.0 940.2,471.1 940.3,470.9M946.7,457.2L947.1,456.3 947.5,455.5 947.9,454.6 948.3,453.7 948.7,452.9 949.1,452.0 949.5,451.1 949.9,450.2 950.3,449.4 950.8,448.5 951.2,447.6 951.6,446.7 952.0,445.8 952.4,444.9 952.9,444.0 953.3,443.1 953.7,442.2 954.1,441.3 954.5,440.4 955.0,439.5 955.4,438.6 955.8,437.8 956.2,436.9 956.6,436.1 957.0,435.2 957.4,434.4 957.8,433.6 958.1,432.8 958.3,432.4M964.6,418.9L964.6,418.9 965.1,418.0 965.5,417.1 965.9,416.2 966.3,415.4 966.6,414.5 967.0,413.7 967.1,413.6M972.8,400.5L972.9,400.4 973.3,399.5 973.6,398.7 974.0,397.9 974.4,396.9 974.9,396.0 975.2,395.3M981.3,383.0L981.7,382.3 982.1,381.6 982.6,380.8 983.0,380.1 983.5,379.3 984.0,378.5 984.5,377.6 985.0,376.8 985.6,376.0 986.1,375.1 986.7,374.2 987.2,373.4 987.8,372.5 988.3,371.6 988.9,370.7 989.4,369.8 990.0,368.9 990.5,368.1 991.1,367.2 991.6,366.3 992.1,365.5 992.6,364.6 993.1,363.8 993.5,363.0 994.0,362.2 994.4,361.4 994.8,360.6 995.3,359.6 995.6,358.9M1000.8,344.7L1000.9,344.5 1001.3,343.6 1001.6,342.8 1002.0,341.9 1002.4,341.0 1002.8,340.2 1003.2,339.3 1003.3,339.3M1010.1,326.8L1010.1,326.7 1010.5,325.9 1011.0,325.0 1011.4,324.2 1011.8,323.3 1012.3,322.4 1012.7,321.6 1012.8,321.2M1019.7,306.5L1020.1,305.7 1020.6,304.9 1021.1,304.1 1021.6,303.3 1022.1,302.5 1022.6,301.6 1023.1,300.8 1023.7,299.9 1024.2,299.0 1024.8,298.1 1025.4,297.2 1025.9,296.4 1026.5,295.5 1027.1,294.6 1027.7,293.7 1028.2,292.8 1028.8,291.9 1029.3,291.1 1029.9,290.2 1030.4,289.4 1030.9,288.6 1031.4,287.8 1031.9,287.0 1032.4,286.2 1032.8,285.4 1033.2,284.7 1033.4,284.4M1039.2,271.7L1039.6,270.9 1040.0,270.0 1040.5,269.1 1040.9,268.3 1041.3,267.5 1041.8,266.7 1042.0,266.4M1049.5,253.2L1049.6,252.9 1050.1,252.1 1050.5,251.2 1050.9,250.4 1051.4,249.5 1051.8,248.5 1052.2,247.6 1052.2,247.5M1058.3,233.1L1058.7,232.3 1059.2,231.5 1059.6,230.7 1060.1,229.9 1060.6,229.1 1061.2,228.3 1061.7,227.4 1062.3,226.6 1062.8,225.7 1063.4,224.8 1064.0,224.0 1064.6,223.1 1065.1,222.2 1065.7,221.4 1066.3,220.5 1066.9,219.6 1067.4,218.8 1068.0,217.9 1068.6,217.1 1069.1,216.2 1069.6,215.4 1070.2,214.6 1070.7,213.8 1071.1,213.1 1071.6,212.3 1072.2,211.3 1072.5,210.8M1079.3,198.3L1079.7,197.5 1080.2,196.6 1080.7,195.7 1081.2,194.9 1081.6,194.0 1082.1,193.1 1082.1,193.0M1089.2,180.0L1089.3,179.9 1089.7,179.0 1090.2,178.2 1090.7,177.4 1091.2,176.5 1091.7,175.7 1092.2,174.9 1092.3,174.8M1100.7,162.1L1101.2,161.4 1101.7,160.6 1102.2,159.9 1102.7,159.1 1103.2,158.3 1103.8,157.5 1104.3,156.7 1104.9,155.8 1105.5,155.0 1106.0,154.1 1106.6,153.3 1107.2,152.4 1107.8,151.6 1108.3,150.7 1108.9,149.9 1109.5,149.1 1110.1,148.2 1110.6,147.4 1111.2,146.6 1111.7,145.8 1112.3,145.1 1112.8,144.4 1113.4,143.6 1113.9,143.0 1114.4,142.3 1114.8,141.8M1123.9,132.1L1124.4,131.6 1125.1,130.8 1125.8,130.1 1126.4,129.4 1127.1,128.7 1127.7,128.1M1136.9,118.3L1137.5,117.7 1138.2,117.0 1138.8,116.4 1139.5,115.7 1140.2,115.0 1140.6,114.6M1150.2,106.5L1150.8,106.0 1151.5,105.5 1152.2,105.0 1153.0,104.4 1153.7,103.9 1154.5,103.3 1155.3,102.7 1156.1,102.2 1156.9,101.6 1157.8,101.0 1158.6,100.4 1159.5,99.8 1160.3,99.2 1161.2,98.6 1162.1,98.0 1162.9,97.4 1163.8,96.8 1164.6,96.2 1165.4,95.7 1166.2,95.2 1167.0,94.6 1167.8,94.2 1168.6,93.7 1169.3,93.2 1170.0,92.8 1170.3,92.6M1181.9,86.6L1182.5,86.4 1183.5,86.2 1184.5,85.9 1185.3,85.7 1186.2,85.5 1187.1,85.3 1187.5,85.3M1202.7,84.0L1203.2,84.0 1204.1,84.0 1205.0,84.1 1205.8,84.1 1206.9,84.2 1207.9,84.3 1208.3,84.3M1219.8,87.8L1221.0,88.2 1221.8,88.5 1222.5,88.8 1223.4,89.2 1224.2,89.5 1225.1,89.9 1226.0,90.3 1226.9,90.7 1227.9,91.2 1228.8,91.6 1229.8,92.0 1230.8,92.5 1231.7,93.0 1232.7,93.4 1233.7,93.9 1234.7,94.4 1235.6,94.8 1236.6,95.3 1237.5,95.7 1238.4,96.2 1239.3,96.6 1240.1,97.0 1241.0,97.4 1241.8,97.8 1242.2,98.1M1253.8,104.6L1254.8,105.0 1255.5,105.3 1256.3,105.6 1257.1,105.9 1257.9,106.2 1258.8,106.5 1259.1,106.6M1272.9,111.2L1273.0,111.2 1273.9,111.5 1274.7,111.8 1275.7,112.2 1276.7,112.5 1277.6,112.9 1277.9,113.1M1288.7,117.5L1289.7,117.8 1290.6,118.1 1291.5,118.4 1292.4,118.6 1293.5,118.9 1294.5,119.2 1295.6,119.6 1296.7,119.9 1297.8,120.2 1299.0,120.5 1300.1,120.8 1301.2,121.1 1302.3,121.4 1303.4,121.7 1304.5,121.9 1305.5,122.2 1306.5,122.4 1307.4,122.7 1308.3,122.9 1309.0,123.1 1309.7,123.3 1310.4,123.5 1310.9,123.6" stroke="#000000" stroke-linecap="butt" stroke-linejoin="miter"/>
</g>
<g font-size="43"><text x="120.7" y="672.5" text-anchor="middle">0</text><text x="274.9" y="672.5" text-anchor="middle">0.2</text><text x="429.2" y="672.5" text-anchor="middle">0.4</text><text x="583.5" y="672.5" text-anchor="middle">0.6</text><text x="737.7" y="672.5" text-anchor="middle">0.8</text><text x="110.3" y="645.9" text-anchor="end">0</text><text x="110.3" y="440.2" text-anchor="end">250</text><text x="110.3" y="234.6" text-anchor="end">500</text><text x="110.3" y="28.9" text-anchor="end">750</text><text x="873.7" y="672.5" text-anchor="middle">0</text><text x="1010.8" y="672.5" text-anchor="middle">0.2</text><text x="1147.9" y="672.5" text-anchor="middle">0.4</text><text x="1285.0" y="672.5" text-anchor="middle">0.6</text><text x="1422.1" y="672.5" text-anchor="middle">0.8</text><text x="863.3" y="645.9" text-anchor="end">0</text><text x="863.3" y="440.2" text-anchor="end">250</text><text x="863.3" y="234.6" text-anchor="end">500</text><text x="863.3" y="28.9" text-anchor="end">750</text></g>
<g transform="translate(27.6,0) rotate(-90)"><text transform="translate(-390.2,0.0) scale(1.27,0.86)" font-size="42" font-style="italic">σ</text><text x="-357.4" y="0" font-size="42">[MPa]</text></g>
<g font-size="42"><text transform="translate(386.9,714.7) scale(1.2,0.97)" font-size="42" font-style="italic">ε</text><text x="414.2" y="715.7" font-size="44">[</text><text x="427.9" y="714.7" font-size="42">%</text><text x="462.5" y="715.7" font-size="44">]</text></g>
<g transform="translate(780.6,0) rotate(-90)"><text transform="translate(-390.2,0.0) scale(1.27,0.86)" font-size="42" font-style="italic">σ</text><text x="-357.4" y="0" font-size="42">[MPa]</text></g>
<g font-size="42"><text transform="translate(1139.9,714.7) scale(1.2,0.97)" font-size="42" font-style="italic">ε</text><text x="1167.2" y="715.7" font-size="44">[</text><text x="1180.9" y="714.7" font-size="42">%</text><text x="1215.5" y="715.7" font-size="44">]</text></g>
<text x="157.7" y="76.6" font-size="54">a</text><text x="182.5" y="76.6" font-size="54">)</text>
<text x="910.6" y="76.2" font-size="54">b</text><text x="938.4" y="76.6" font-size="54">)</text>
<path d="M366.1,392.7h49.5" stroke="#0000ff" stroke-width="5.5"/><path d="M366.1,422.9h49.5" stroke="#ff0000" stroke-width="5.5" stroke-dasharray="5.5 16.5"/><path d="M366.1,463.6h49.5" stroke="#008b00" stroke-width="5.5" stroke-dasharray="27.5 16.5 5.5 16.5"/><path d="M366.1,505.4h49.5" stroke="#9400d3" stroke-width="5.5" stroke-dasharray="5.5 16.5 27.5 16.5"/><path d="M366.1,546.7h49.5" stroke="#000000" stroke-width="5.5" stroke-dasharray="5.5 16.5 27.5 16.5 5.5 16.5"/><path d="M1007.3,396.6h49.5" stroke="#ff00ff" stroke-width="5.5"/><path d="M1007.3,441.5h49.5" stroke="#ff0000" stroke-width="5.5" stroke-dasharray="5.5 16.5"/><path d="M1007.3,488h49.5" stroke="#008b00" stroke-width="5.5" stroke-dasharray="27.5 16.5 5.5 16.5"/><path d="M1007.3,533.6h49.5" stroke="#9400d3" stroke-width="5.5" stroke-dasharray="5.5 16.5 27.5 16.5"/><path d="M1007.3,579.4h49.5" stroke="#000000" stroke-width="5.5" stroke-dasharray="5.5 16.5 27.5 16.5 5.5 16.5"/>
<g class="lg"><text x="427.3" y="401.9" font-size="28">Pure</text>
<text x="428.9" y="432.6" font-size="28" font-style="italic">ρ</text>
<text x="440.7" y="443.5" font-size="20" font-style="italic">l</text>
<text x="447.6" y="436.8" font-size="30.5">=</text>
<text x="469.7" y="432.6" font-size="28">5</text>
<text x="483.1" y="436.5" font-size="32.5">×</text>
<text x="500.9" y="432.6" font-size="28">10</text>
<text x="527.1" y="415.8" font-size="20">20</text>
<text x="553.9" y="432.6" font-size="28">m</text>
<text x="575.4" y="415.8" font-size="20">-3</text>
<text x="429.3" y="473.3" font-size="28" font-style="italic">ρ</text>
<text x="441.1" y="484.2" font-size="20" font-style="italic">l</text>
<text x="454.3" y="477.5" font-size="30.5">=</text>
<text x="478.6" y="473.3" font-size="28">1</text>
<text x="490.0" y="477.2" font-size="32.5">×</text>
<text x="507.5" y="473.3" font-size="28">10</text>
<text x="534.5" y="456.5" font-size="20">21</text>
<text x="561.4" y="473.3" font-size="28">m</text>
<text x="582.9" y="456.5" font-size="20">-3</text>
<text x="428.8" y="514.7" font-size="28" font-style="italic">ρ</text>
<text x="440.6" y="525.6" font-size="20" font-style="italic">l</text>
<text x="453.9" y="518.9" font-size="30.5">=</text>
<text x="477.0" y="514.7" font-size="28">2</text>
<text x="496.3" y="518.6" font-size="32.5">×</text>
<text x="521.5" y="514.7" font-size="28">10</text>
<text x="548.1" y="497.9" font-size="20">21</text>
<text x="575.0" y="514.7" font-size="28">m</text>
<text x="596.2" y="497.9" font-size="20">-3</text>
<text x="428.8" y="555.2" font-size="28" font-style="italic">ρ</text>
<text x="440.6" y="566.1" font-size="20" font-style="italic">l</text>
<text x="453.9" y="559.4" font-size="30.5">=</text>
<text x="477.7" y="555.2" font-size="28">4</text>
<text x="496.3" y="559.1" font-size="32.5">×</text>
<text x="521.5" y="555.2" font-size="28">10</text>
<text x="548.1" y="538.4" font-size="20">21</text>
<text x="575.0" y="555.2" font-size="28">m</text>
<text x="596.2" y="538.4" font-size="20">-3</text><text x="1070.5" y="404.5" font-size="28" font-style="italic">ρ</text>
<text x="1083.7" y="415.4" font-size="20" font-style="italic">p</text>
<text x="1099.4" y="408.7" font-size="30.5">=</text>
<text x="1129.8" y="404.5" font-size="28">2</text>
<text x="1142.5" y="408.4" font-size="32.5">×</text>
<text x="1166.7" y="404.5" font-size="28">10</text>
<text x="1193.8" y="387.7" font-size="20">21</text>
<text x="1225.7" y="404.5" font-size="28">m</text>
<text x="1246.7" y="387.7" font-size="20">-3</text>
<text x="1267.6" y="404.5" font-size="28">ρ</text>
<text x="1282.4" y="415.4" font-size="20">l</text>
<text x="1293.9" y="408.7" font-size="30.5">=</text>
<text x="1316.9" y="404.5" font-size="28">0</text>
<text x="1070.5" y="449.6" font-size="28" font-style="italic">ρ</text>
<text x="1083.7" y="460.5" font-size="20" font-style="italic">p</text>
<text x="1099.4" y="453.8" font-size="30.5">=</text>
<text x="1129.8" y="449.6" font-size="28">2</text>
<text x="1142.5" y="453.5" font-size="32.5">×</text>
<text x="1166.7" y="449.6" font-size="28">10</text>
<text x="1193.8" y="432.8" font-size="20">21</text>
<text x="1225.7" y="449.6" font-size="28">m</text>
<text x="1246.7" y="432.8" font-size="20">-3</text>
<text x="1271.1" y="449.6" font-size="28" font-style="italic">ρ</text>
<text x="1282.9" y="460.5" font-size="20" font-style="italic">l</text>
<text x="1295.9" y="453.8" font-size="30.5">=</text>
<text x="1318.1" y="449.6" font-size="28">5</text>
<text x="1338.0" y="453.5" font-size="32.5">×</text>
<text x="1363.3" y="449.6" font-size="28">10</text>
<text x="1388.3" y="432.8" font-size="20">20</text>
<text x="1417.1" y="449.6" font-size="28">m</text>
<text x="1438.7" y="432.8" font-size="20">-3</text>
<text x="1070.5" y="495.6" font-size="28" font-style="italic">ρ</text>
<text x="1083.7" y="506.5" font-size="20" font-style="italic">p</text>
<text x="1099.4" y="499.8" font-size="30.5">=</text>
<text x="1129.8" y="495.6" font-size="28">2</text>
<text x="1142.5" y="499.5" font-size="32.5">×</text>
<text x="1166.7" y="495.6" font-size="28">10</text>
<text x="1193.8" y="478.8" font-size="20">21</text>
<text x="1225.7" y="495.6" font-size="28">m</text>
<text x="1246.7" y="478.8" font-size="20">-3</text>
<text x="1271.1" y="495.6" font-size="28" font-style="italic">ρ</text>
<text x="1282.9" y="506.5" font-size="20" font-style="italic">l</text>
<text x="1295.9" y="499.8" font-size="30.5">=</text>
<text x="1319.3" y="495.6" font-size="28">1</text>
<text x="1338.6" y="499.5" font-size="32.5">×</text>
<text x="1363.0" y="495.6" font-size="28">10</text>
<text x="1389.8" y="478.8" font-size="20">21</text>
<text x="1417.2" y="495.6" font-size="28">m</text>
<text x="1438.5" y="478.8" font-size="20">-3</text>
<text x="1070.5" y="540.7" font-size="28" font-style="italic">ρ</text>
<text x="1083.7" y="551.6" font-size="20" font-style="italic">p</text>
<text x="1099.4" y="544.9" font-size="30.5">=</text>
<text x="1129.8" y="540.7" font-size="28">2</text>
<text x="1142.5" y="544.6" font-size="32.5">×</text>
<text x="1166.7" y="540.7" font-size="28">10</text>
<text x="1193.8" y="523.9" font-size="20">21</text>
<text x="1225.7" y="540.7" font-size="28">m</text>
<text x="1246.7" y="523.9" font-size="20">-3</text>
<text x="1271.1" y="540.7" font-size="28" font-style="italic">ρ</text>
<text x="1282.9" y="551.6" font-size="20" font-style="italic">l</text>
<text x="1295.9" y="544.9" font-size="30.5">=</text>
<text x="1319.7" y="540.7" font-size="28">2</text>
<text x="1338.6" y="544.6" font-size="32.5">×</text>
<text x="1363.0" y="540.7" font-size="28">10</text>
<text x="1389.8" y="523.9" font-size="20">21</text>
<text x="1417.2" y="540.7" font-size="28">m</text>
<text x="1438.5" y="523.9" font-size="20">-3</text>
<text x="1070.5" y="586.1" font-size="28" font-style="italic">ρ</text>
<text x="1083.7" y="597.0" font-size="20" font-style="italic">p</text>
<text x="1099.4" y="590.3" font-size="30.5">=</text>
<text x="1129.8" y="586.1" font-size="28">2</text>
<text x="1142.5" y="590.0" font-size="32.5">×</text>
<text x="1166.7" y="586.1" font-size="28">10</text>
<text x="1193.8" y="569.3" font-size="20">21</text>
<text x="1225.7" y="586.1" font-size="28">m</text>
<text x="1246.7" y="569.3" font-size="20">-3</text>
<text x="1271.1" y="586.1" font-size="28" font-style="italic">ρ</text>
<text x="1282.9" y="597.0" font-size="20" font-style="italic">l</text>
<text x="1295.9" y="590.3" font-size="30.5">=</text>
<text x="1319.4" y="586.1" font-size="28">4</text>
<text x="1331.4" y="590.0" font-size="32.5">×</text>
<text x="1356.2" y="586.1" font-size="28">10</text>
<text x="1384.0" y="569.3" font-size="20">21</text>
<text x="1410.4" y="586.1" font-size="28">m</text>
<text x="1431.7" y="569.3" font-size="20">-3</text></g>
</svg></body></html>
